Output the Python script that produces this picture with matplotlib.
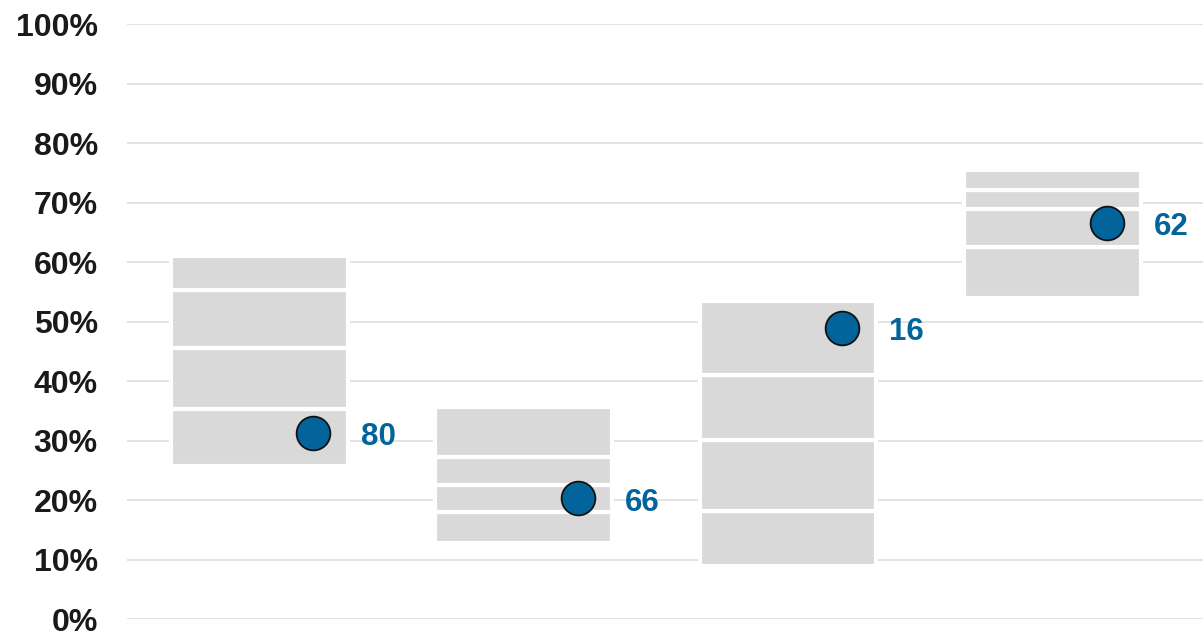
import matplotlib.pyplot as plt
import numpy as np

plt.rcParams['font.family'] = ['Liberation Sans', 'DejaVu Sans']

# segment edges of each box, bottom to top (percent)
box_edges = [
    [25.7, 35.4, 45.5, 55.3, 61.1],
    [12.8, 18.1, 22.6, 27.3, 35.6],
    [8.9, 18.2, 30.2, 41.1, 53.4],
    [53.9, 62.5, 68.9, 72.1, 75.4],
]
dot_values = [31.3, 20.3, 49.0, 66.6]
dot_labels = ["80", "66", "16", "62"]
y_ticks = [0, 10, 20, 30, 40, 50, 60, 70, 80, 90, 100]

grey = "#d9d9d9"
blue = "#02649b"

fig = plt.figure(figsize=(12.03, 6.32), dpi=100)
ax = fig.add_axes([0.1056, 0.0201, 0.8944, 0.9419])

x = np.arange(len(box_edges))
width = 0.668
dot_shift = 0.205

for i, edges in enumerate(box_edges):
    bottoms = edges[:-1]
    heights = np.diff(edges)
    ax.bar([x[i]] * len(heights), heights, bottom=bottoms, width=width,
           color=grey, edgecolor="white", linewidth=3, zorder=2)

ax.scatter(x + dot_shift, dot_values, s=590, color=blue,
           edgecolor="#111111", linewidth=1.3, zorder=3)

for xi, v, lab in zip(x, dot_values, dot_labels):
    ax.annotate(lab, (xi + dot_shift, v), xytext=(34, -3),
                textcoords="offset points", ha="left", va="center",
                fontsize=22.5, fontweight="bold", color=blue)

ax.set_ylim(0, 100)
ax.set_xlim(-0.5, 3.57)
ax.set_yticks(y_ticks)
ax.set_yticklabels([f"{t}%" for t in y_ticks])
ax.set_xticks([])
ax.tick_params(axis="y", length=0, pad=21, labelsize=23)
for lbl in ax.get_yticklabels():
    lbl.set_fontweight("bold")
    lbl.set_color("#1a1a1a")

ax.yaxis.grid(True, color="#dedede", linewidth=1.2, zorder=0)
ax.set_axisbelow(True)
for s in ax.spines.values():
    s.set_visible(False)

fig.savefig("out.png", dpi=100)
